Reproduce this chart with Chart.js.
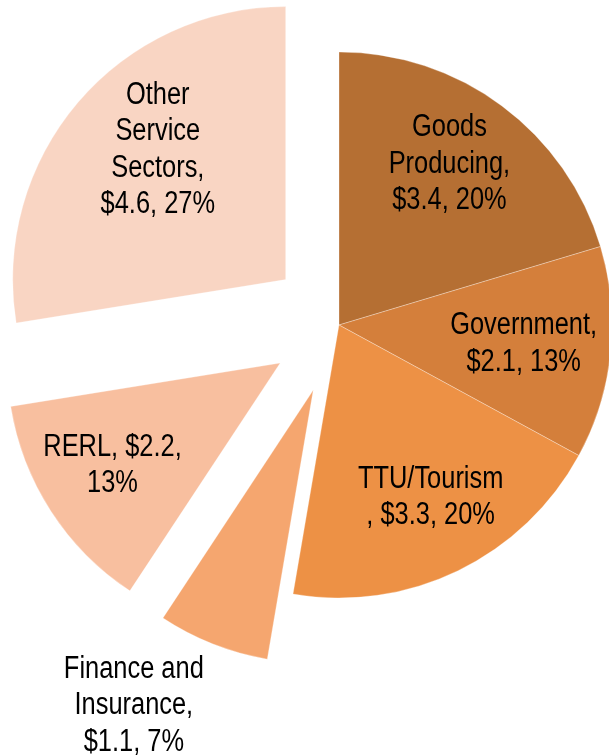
<!DOCTYPE html>
<html>
<head>
<meta charset="utf-8">
<script src="https://cdn.jsdelivr.net/npm/chart.js@4/dist/chart.umd.min.js"></script>
<style>
  html, body { margin: 0; padding: 0; background: #fff; }
  canvas { display: block; }
</style>
</head>
<body>
<canvas id="grafico" width="609" height="755"></canvas>
<script>
// sectors, $ values and rounded shares
const sectores = ["Goods Producing", "Government", "TTU/Tourism", "Finance and Insurance", "RERL", "Other Service Sectors"];
const valores = [3.4, 2.1, 3.3, 1.1, 2.2, 4.6];
const porcentajes = [20, 13, 20, 7, 13, 27];

const colores = ["#B56F33", "#D47F3B", "#ED9145", "#F5A66F", "#F8BF9F", "#F9D5C3"];

// how far each slice is pulled out from the middle (px)
const separacion = [0, 0, 0, 70, 70, 70];

// line breaks of each slice label
const cortes = [
  ["Goods", "Producing,", "$3.4, 20%"],
  ["Government,", "$2.1, 13%"],
  ["TTU/Tourism", ", $3.3, 20%"],
  ["Finance and", "Insurance,", "$1.1, 7%"],
  ["RERL, $2.2,", "13%"],
  ["Other", "Service", "Sectors,", "$4.6, 27%"]
];
// label spot: fraction along the slice angle, fraction of radius
const posEtiqueta = [
  [0.47, 0.715], [0.50, 0.68], [0.47, 0.715], [0.84, 1.33], [0.53, 0.72], [0.55, 0.667]
];

// pick a condensed face if it is installed
function fuenteEtiquetas() {
  const c = document.createElement("canvas").getContext("2d");
  c.font = "30px monospace";
  const base = c.measureText("Government,").width;
  c.font = '30px "Liberation Sans Narrow", monospace';
  const narrow = c.measureText("Government,").width;
  return Math.abs(base - narrow) > 0.5
    ? { family: '"Liberation Sans Narrow"', scale: 1 }
    : { family: '"Liberation Sans", Arial', scale: 0.82 };
}
const fuente = fuenteEtiquetas();

const explotar = {
  id: "explotar",
  afterDatasetUpdate(chart, args) {
    args.meta.data.forEach((arc, i) => {
      const d = separacion[i] || 0;
      const mid = (arc.startAngle + arc.endAngle) / 2;
      arc.x += Math.cos(mid) * d;
      arc.y += Math.sin(mid) * d;
    });
  }
};

const etiquetas = {
  id: "etiquetas",
  afterDatasetsDraw(chart) {
    const ctx = chart.ctx;
    const meta = chart.getDatasetMeta(0);
    const size = 31, alto = 36.5;
    ctx.save();
    ctx.fillStyle = "#000";
    ctx.textAlign = "center";
    ctx.textBaseline = "middle";
    ctx.font = size + "px " + fuente.family;
    meta.data.forEach((arc, i) => {
      const [fa, fr] = posEtiqueta[i];
      const ang = arc.startAngle + fa * (arc.endAngle - arc.startAngle);
      const r = fr * arc.outerRadius;
      const x = arc.x + Math.cos(ang) * r;
      const y = arc.y + Math.sin(ang) * r;
      const lineas = cortes[i];
      const y0 = y - (lineas.length - 1) * alto / 2;
      lineas.forEach((t, k) => {
        ctx.save();
        ctx.translate(x, y0 + k * alto);
        ctx.scale(fuente.scale, 1);
        ctx.fillText(t, 0, 0);
        ctx.restore();
      });
    });
    ctx.restore();
  }
};

const ctx = document.getElementById("grafico").getContext("2d");
const chart = new Chart(ctx, {
  type: "pie",
  data: {
    labels: sectores,
    datasets: [{
      data: valores,
      backgroundColor: colores,
      borderColor: "rgba(255,255,255,0.3)",
      borderWidth: 1,
      hoverOffset: 0,
      clip: false
    }]
  },
  options: {
    responsive: false,
    animation: false,
    radius: 273,
    layout: { padding: { left: 69, right: 0, top: 0, bottom: 105 } },
    plugins: {
      legend: { display: false },
      tooltip: {
        callbacks: {
          label: (item) => " $" + valores[item.dataIndex].toFixed(1) + ", " + porcentajes[item.dataIndex] + "%"
        }
      }
    }
  },
  plugins: [explotar, etiquetas]
});
</script>
</body>
</html>
